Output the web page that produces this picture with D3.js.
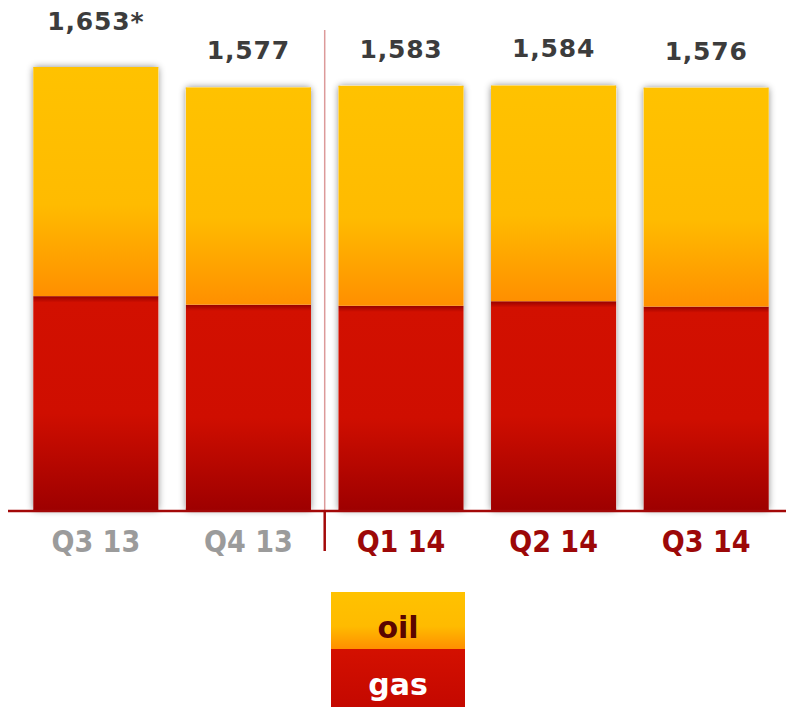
<!DOCTYPE html>
<html>
<head>
<meta charset="utf-8">
<script src="https://cdn.jsdelivr.net/npm/d3@7"></script>
<style>
  body { margin: 0; background: #fff; }
  svg { display: block; }
</style>
</head>
<body>
<div id="chart"></div>
<script>
const quarters = ["Q3 13", "Q4 13", "Q1 14", "Q2 14", "Q3 14"];
const totals = [1653, 1577, 1583, 1584, 1576];
const gasValues = [798, 766, 762, 779, 759];
const oilValues = [855, 811, 821, 805, 817];
const totalLabels = ["1,653*", "1,577", "1,583", "1,584", "1,576"];
const firstCurrent = "Q1 14";
const legendKeys = ["oil", "gas"];

let dims = { width: 786, height: 707, baseline: 510, top: 67 };

let svg = d3.select("#chart").append("svg")
  .attr("width", dims.width)
  .attr("height", dims.height);

let defs = svg.append("defs");

let oilGrad = defs.append("linearGradient").attr("id", "oilGrad")
  .attr("x1", 0).attr("y1", 0).attr("x2", 0).attr("y2", 1);
oilGrad.append("stop").attr("offset", "0%").attr("stop-color", "#ffc200");
oilGrad.append("stop").attr("offset", "60%").attr("stop-color", "#ffbb00");
oilGrad.append("stop").attr("offset", "100%").attr("stop-color", "#ff8f00");

let gasGrad = defs.append("linearGradient").attr("id", "gasGrad")
  .attr("x1", 0).attr("y1", 0).attr("x2", 0).attr("y2", 1);
gasGrad.append("stop").attr("offset", "0%").attr("stop-color", "#960000");
gasGrad.append("stop").attr("offset", "3%").attr("stop-color", "#d21000");
gasGrad.append("stop").attr("offset", "55%").attr("stop-color", "#cf0e00");
gasGrad.append("stop").attr("offset", "100%").attr("stop-color", "#9e0000");

let legGas = defs.append("linearGradient").attr("id", "legGas")
  .attr("x1", 0).attr("y1", 0).attr("x2", 0).attr("y2", 1);
legGas.append("stop").attr("offset", "0%").attr("stop-color", "#d41000");
legGas.append("stop").attr("offset", "100%").attr("stop-color", "#c40800");

let shadow = defs.append("filter").attr("id", "shadow")
  .attr("x", "-20%").attr("y", "-20%").attr("width", "140%").attr("height", "140%");
shadow.append("feDropShadow")
  .attr("dx", 0).attr("dy", 0).attr("stdDeviation", 3.5)
  .attr("flood-color", "#000").attr("flood-opacity", 0.45);

// scales
let x = d3.scaleBand()
  .domain(quarters)
  .range([18, 784])
  .paddingInner(0.18)
  .paddingOuter(0.1);

let y = d3.scaleLinear()
  .domain([0, d3.max(totals)])
  .range([dims.baseline, dims.top]);

let table = quarters.map((q, i) => ({ quarter: q, gas: gasValues[i], oil: oilValues[i], total: totals[i], label: totalLabels[i] }));
let stack = d3.stack().keys(["gas", "oil"])(table);

// divider between old and current quarters
let divX = (x(quarters[quarters.indexOf(firstCurrent) - 1]) + x.bandwidth() + x(firstCurrent)) / 2;
svg.append("line")
  .attr("x1", divX).attr("x2", divX)
  .attr("y1", 30).attr("y2", dims.baseline)
  .style("stroke", "#dc9a9a")
  .attr("stroke-width", 1.5);

// bars
let barG = svg.append("g");
barG.selectAll("rect.shadow")
  .data(table)
  .enter()
  .append("rect")
  .attr("class", "shadow")
  .attr("x", d => x(d.quarter))
  .attr("y", d => y(d.total))
  .attr("width", x.bandwidth())
  .attr("height", d => dims.baseline - y(d.total))
  .attr("rx", 3)
  .attr("fill", "#fff")
  .attr("filter", "url(#shadow)");

barG.selectAll("g.layer")
  .data(stack)
  .enter()
  .append("g")
  .attr("class", "layer")
  .attr("fill", d => d.key === "oil" ? "url(#oilGrad)" : "url(#gasGrad)")
  .selectAll("rect")
  .data(d => d)
  .enter()
  .append("rect")
  .attr("x", d => x(d.data.quarter))
  .attr("y", d => y(d[1]))
  .attr("width", x.bandwidth())
  .attr("height", d => y(d[0]) - y(d[1]));

// value labels (the footnoted one sits a little higher)
svg.selectAll("text.total")
  .data(table)
  .enter()
  .append("text")
  .attr("class", "total")
  .attr("x", d => x(d.quarter) + x.bandwidth() / 2)
  .attr("y", d => y(d.total) - (d.label.endsWith("*") ? 37 : 28))
  .attr("text-anchor", "middle")
  .style("font-family", "DejaVu Sans, Verdana, sans-serif")
  .style("font-weight", "bold")
  .style("font-size", "25px")
  .style("letter-spacing", "0.8px")
  .style("fill", "#3c3c3c")
  .text(d => d.label);

// axis
let axis = svg.append("g")
  .attr("transform", `translate(0,${dims.baseline + 1})`)
  .call(d3.axisBottom(x).tickSize(0).tickPadding(20));
axis.select(".domain").remove();
axis.append("line")
  .attr("x1", 8).attr("x2", 786)
  .attr("y1", 0).attr("y2", 0)
  .style("stroke", "#a30808")
  .attr("stroke-width", 2.5);
axis.selectAll(".tick text")
  .style("font-family", "DejaVu Sans Condensed, DejaVu Sans, sans-serif")
  .style("font-weight", "bold")
  .style("font-size", "30px")
  .style("fill", d => quarters.indexOf(d) < quarters.indexOf(firstCurrent) ? "#9b9b9b" : "#9c0808");

svg.append("line")
  .attr("x1", divX).attr("x2", divX)
  .attr("y1", dims.baseline).attr("y2", 551)
  .style("stroke", "#a30808")
  .attr("stroke-width", 2.5);

// legend
let legend = svg.append("g").attr("transform", "translate(331,592)");
legend.selectAll("rect")
  .data(legendKeys)
  .enter()
  .append("rect")
  .attr("x", 0)
  .attr("y", (d, i) => i * 57)
  .attr("width", 134)
  .attr("height", (d, i) => i === 0 ? 57 : 58)
  .attr("fill", d => d === "oil" ? "url(#oilGrad)" : "url(#legGas)");
legend.selectAll("text")
  .data(legendKeys)
  .enter()
  .append("text")
  .attr("x", 67)
  .attr("y", (d, i) => i * 57 + 46)
  .attr("text-anchor", "middle")
  .style("font-family", "DejaVu Sans, Verdana, sans-serif")
  .style("font-weight", "bold")
  .style("font-size", "30px")
  .style("fill", d => d === "oil" ? "#5a0500" : "#ffffff")
  .text(d => d);
</script>
</body>
</html>
